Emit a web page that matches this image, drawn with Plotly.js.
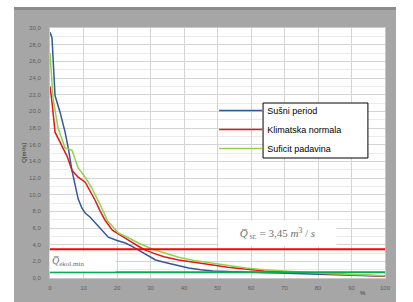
<!DOCTYPE html>
<html>
<head>
<meta charset="utf-8">
<script src="https://cdn.plot.ly/plotly-3.0.1.min.js"></script>
<style>
html,body{margin:0;padding:0;background:#ffffff;width:413px;height:302px;overflow:hidden;}
#chart{position:absolute;left:14px;top:7px;width:382px;height:295px;}
</style>
</head>
<body>
<div id="chart"></div>
<script>
// Duration curves (x = % of time, y = Q in m3/s)
const seriesNames = ["Sušni period", "Klimatska normala", "Suficit padavina"];

const xDry = [0,0.6,1.5,3,4.5,5.5,6.5,7.5,8.4,9.5,10.5,12,13.5,15.5,17.4,20,22.5,24.5,26.4,29,31.5,35,38,41.4,45,48.6,53,58.5,64,70,77,84,92,100];
const yDry = [29.5,28.8,21.9,19.9,17.5,15.5,13.0,11.0,9.5,8.4,7.8,7.3,6.6,5.8,4.9,4.5,4.2,3.8,3.35,2.7,2.16,1.8,1.5,1.2,1.0,0.84,0.78,0.72,0.6,0.52,0.44,0.36,0.27,0.2];

const xNormal = [0,0.6,1.5,3,4.5,5.1,6.6,8.4,10.5,12,13.5,15,16.5,18.6,21,23.4,26,28.5,31,34,38.4,43,48.6,53,58.5,64,70,77,84,92,100];
const yNormal = [23,21.1,17.5,16.3,15.1,14.6,12.9,12.1,11.5,10.4,9.3,8.0,6.9,5.75,5.1,4.55,3.9,3.35,2.95,2.55,2.16,1.85,1.56,1.3,1.05,0.85,0.72,0.58,0.45,0.35,0.25];

const xWet = [0,0.3,0.9,2.4,4.5,5.5,6.6,8.4,10.5,12.5,14.4,15.8,17.1,18.8,20.4,23.5,26.4,30.6,34,38.4,43,48.6,53,58.5,64,70,77,84,92,100];
const yWet = [27,25.5,21.6,18,15.6,15.5,15.3,13.2,12.1,10.8,9.3,8.1,6.9,6.1,5.4,4.8,4.2,3.45,3.0,2.5,2.1,1.8,1.5,1.2,1.0,0.82,0.65,0.5,0.38,0.28];

// Reference levels
const qSr = 3.45;      // mean flow
const qEkol = 0.7;     // ecological minimum
const xSpan = [0, 100];

const yTicks = [0,2,4,6,8,10,12,14,16,18,20,22,24,26,28,30];
const xTicks = [0,10,20,30,40,50,60,70,80,90,100];

const traces = [
  {x: xDry, y: yDry, name: seriesNames[0], type: "scatter", mode: "lines",
   line: {color: "#34589a", width: 1.5}},
  {x: xNormal, y: yNormal, name: seriesNames[1], type: "scatter", mode: "lines",
   line: {color: "#e01818", width: 1.5}},
  {x: xWet, y: yWet, name: seriesNames[2], type: "scatter", mode: "lines",
   line: {color: "#92d050", width: 1.5}},
  {x: xSpan, y: [qSr, qSr], type: "scatter", mode: "lines", showlegend: false,
   line: {color: "#ff0000", width: 2}},
  {x: xSpan, y: [qEkol, qEkol], type: "scatter", mode: "lines", showlegend: false,
   line: {color: "#00b050", width: 2}}
];

const layout = {
  width: 382, height: 295,
  margin: {l: 36, r: 11, t: 21, b: 24, pad: 0},
  paper_bgcolor: "#a6a6a6",
  plot_bgcolor: "#ffffff",
  separators: ",.",
  showlegend: true,
  legend: {
    x: 0.49, y: 0.728, xanchor: "left", yanchor: "top",
    bgcolor: "rgba(0,0,0,0)", borderwidth: 0,
    font: {family: "Liberation Sans, Arial, sans-serif", size: 9, color: "#000"},
    itemwidth: 43, tracegroupgap: 0
  },
  xaxis: {
    range: [0, 100], tickvals: xTicks, ticktext: xTicks.map(String),
    showgrid: true, gridcolor: "#d4d4d4", gridwidth: 1,
    zeroline: false, showline: true, linecolor: "#c8c8c8", mirror: true,
    ticks: "", ticklabelstandoff: 4,
    tickfont: {family: "Liberation Sans, Arial, sans-serif", size: 6, color: "#5e5e5e"},
    fixedrange: true
  },
  yaxis: {
    range: [0, 30], tickvals: yTicks, tickformat: ".1f",
    showgrid: true, gridcolor: "#d4d4d4", gridwidth: 1,
    minor: {dtick: 1, showgrid: true, gridcolor: "#ebebeb"},
    zeroline: false, showline: true, linecolor: "#c8c8c8", mirror: true,
    ticks: "", ticklabelstandoff: 7,
    tickfont: {family: "Liberation Sans, Arial, sans-serif", size: 6, color: "#5e5e5e"},
    title: {text: "Q[m³/s]", standoff: 2,
            font: {family: "Liberation Sans, Arial, sans-serif", size: 6, color: "#333"}},
    fixedrange: true
  },
  shapes: [
    {type: "rect", xref: "paper", yref: "paper", layer: "above",
     x0: 0.636, x1: 0.949, y0: 0.48, y1: 0.70,
     fillcolor: "#ffffff", line: {color: "#000000", width: 1}},
    {type: "rect", xref: "paper", yref: "paper", layer: "below",
     x0: -0.11, x1: 1.04, y0: 1.072, y1: 1.09,
     fillcolor: "#8c8c8c", line: {width: 0}}
  ],
  annotations: [
    {x: 68, y: 5.33, xref: "x", yref: "y", showarrow: false,
     text: "<i>Q̅</i><sub> sr.</sub> = 3,45 <i>m</i><sup>3</sup> / <i>s</i>",
     bgcolor: "#ffffff", width: 113, height: 21, borderpad: 2, align: "center",
     font: {family: "Liberation Serif, Times New Roman, serif", size: 11, color: "#707070"}},
    {x: 9.76, y: 2.0, xref: "x", yref: "y", showarrow: false,
     text: "<i>Q̅</i><sub>ekol.min</sub>",
     bgcolor: "#ffffff", width: 61, height: 15, borderpad: 2, align: "left",
     font: {family: "Liberation Serif, Times New Roman, serif", size: 10, color: "#707070"}},
    {x: 0.935, y: -0.04, xref: "paper", yref: "paper", showarrow: false,
     text: "%", xanchor: "center", yanchor: "top",
     font: {family: "Liberation Sans, Arial, sans-serif", size: 6, color: "#3a3a3a"}}
  ]
};

Plotly.newPlot("chart", traces, layout, {displayModeBar: false, staticPlot: true});
</script>
</body>
</html>
